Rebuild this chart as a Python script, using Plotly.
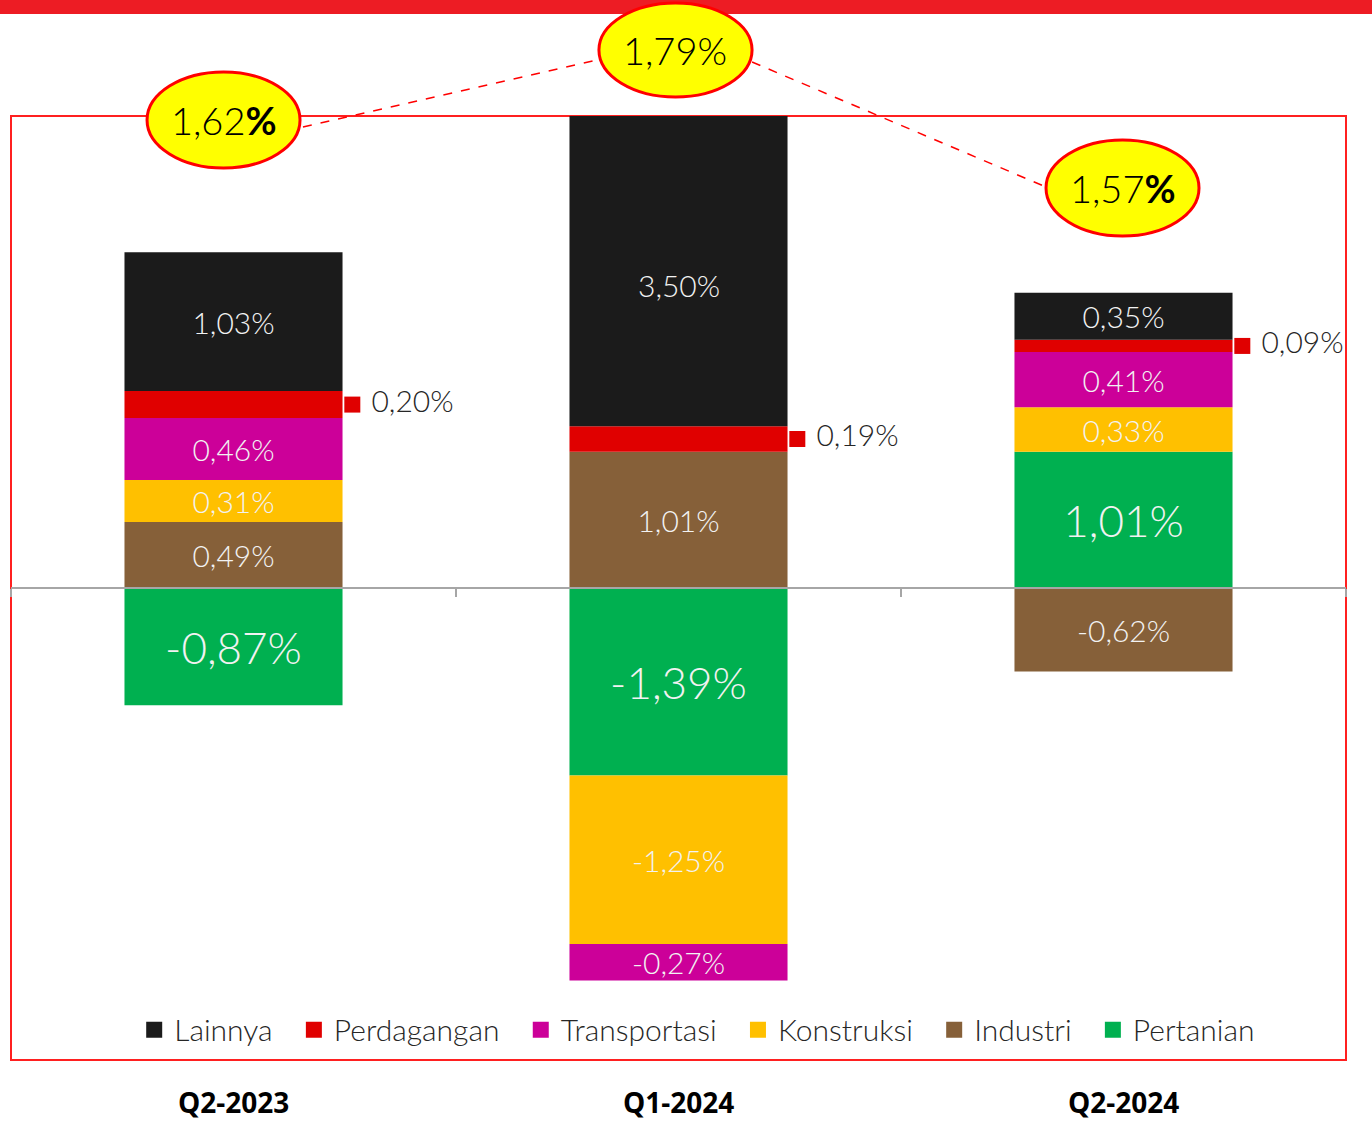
import numpy as np
import plotly.graph_objects as go

categories = ['Q2-2023', 'Q1-2024', 'Q2-2024']
pertanian = [-0.87, -1.39, 1.01]
industri = [0.49, 1.01, -0.62]
konstruksi = [0.31, -1.25, 0.33]
transportasi = [0.46, -0.27, 0.41]
perdagangan = [0.20, 0.19, 0.09]
lainnya = [1.03, 3.50, 0.35]

series = [
    ('Pertanian', pertanian, '#00B050', 44),
    ('Industri', industri, '#866039', 30),
    ('Konstruksi', konstruksi, '#FFC000', 30),
    ('Transportasi', transportasi, '#CC0099', 30),
    ('Perdagangan', perdagangan, '#E00000', 30),
    ('Lainnya', lainnya, '#1B1B1B', 30),
]

YMAX = 3.5
BAR_W = 0.49
FONT = 'Lato'
x_pos = list(range(len(categories)))


def fmt(v):
    return f'{v:.2f}'.replace('.', ',') + '%'


fig = go.Figure()
pos_base = np.zeros(len(categories))
neg_base = np.zeros(len(categories))
mids = {}
extra_labels = []
for name, vals, color, size in series:
    vals = np.array(vals)
    base = np.where(vals >= 0, pos_base, neg_base)
    top = base + vals
    mids[name] = (base + top) / 2
    texts = []
    for i, v in enumerate(vals):
        if name == 'Perdagangan':
            texts.append('')
        elif top[i] > YMAX:
            # bar runs past the top of the frame: label the visible part
            texts.append('')
            extra_labels.append((i, (base[i] + YMAX) / 2, fmt(v), size))
        else:
            texts.append(fmt(v))
    fig.add_trace(go.Bar(x=x_pos, y=vals, name=name, width=BAR_W,
                         marker=dict(color=color, line=dict(width=0)),
                         text=texts, textposition='inside', insidetextanchor='middle',
                         textangle=0, constraintext='none',
                         textfont=dict(color='#F2F2F2', size=size, family=FONT, weight=300),
                         hoverinfo='y', showlegend=False))
    pos_base = np.where(vals >= 0, top, pos_base)
    neg_base = np.where(vals < 0, top, neg_base)

# legend entries with bigger square keys
for name, vals, color, size in series:
    fig.add_trace(go.Scatter(x=[None], y=[None], mode='markers', name=name + '&nbsp;&nbsp;',
                             marker=dict(symbol='square', size=16, color=color)))

# Perdagangan labels outside the bars
fig.add_trace(go.Scatter(x=[i + BAR_W / 2 + 0.022 for i in x_pos], y=mids['Perdagangan'],
                         mode='markers+text', text=[' ' + fmt(v) for v in perdagangan],
                         textposition='middle right',
                         textfont=dict(color='#262626', size=30, family=FONT, weight=300),
                         marker=dict(symbol='square', size=16, color='#E00000'),
                         showlegend=False, hoverinfo='skip', cliponaxis=False))

for i, y, txt, size in extra_labels:
    fig.add_annotation(x=i, y=y, text=txt, showarrow=False, yshift=-14,
                       font=dict(color='#F2F2F2', size=size, family=FONT, weight=300))

# category labels
for i, cat in enumerate(categories):
    fig.add_annotation(x=i, y=0, xref='x', yref='paper', text='<b>' + cat + '</b>',
                       showarrow=False, yanchor='middle', yshift=-42,
                       font=dict(color='black', size=28, family='Open Sans'))

# frame and top band
fig.add_shape(type='rect', xref='paper', yref='paper', x0=0, x1=1, y0=0, y1=1,
              line=dict(color='#FF2020', width=2), layer='below')
fig.add_shape(type='rect', xref='paper', yref='paper', x0=-0.01, x1=1.03, y0=1.108, y1=1.13,
              line=dict(width=0), fillcolor='#ED1C24')

# totals in ellipses
totals = [sum(s[1][i] for s in series) for i in range(len(categories))]
ellipses = [(0.1019, 0.2165, 0.9449, 1.0466), (0.4404, 0.5551, 1.0201, 1.1197),
            (0.7753, 0.8899, 0.8729, 0.9746)]
fig.add_shape(type='line', xref='paper', yref='paper', x0=0.2187, y0=0.9883, x1=0.4390, y1=1.0593,
              line=dict(color='#FF0000', width=1.5, dash='dash'))
fig.add_shape(type='line', xref='paper', yref='paper', x0=0.5551, y0=1.0572, x1=0.7753, y1=0.9248,
              line=dict(color='#FF0000', width=1.5, dash='dash'))
for i, (x0, x1, y0, y1) in enumerate(ellipses):
    fig.add_shape(type='circle', xref='paper', yref='paper', x0=x0, x1=x1, y0=y0, y1=y1,
                  fillcolor='#FFFF00', line=dict(color='#FF0000', width=3))
    t = fmt(totals[i])
    if i != 1:
        t = t[:-1] + '<b>%</b>'
    fig.add_annotation(x=(x0 + x1) / 2, y=(y0 + y1) / 2, xref='paper', yref='paper', text=t,
                       xanchor='center', yanchor='middle', showarrow=False,
                       font=dict(color='black', size=38, family=FONT, weight=300))

fig.update_layout(
    width=1372, height=1125,
    margin=dict(l=11, r=26, t=116, b=65),
    paper_bgcolor='white', plot_bgcolor='white',
    barmode='relative',
    showlegend=True,
    legend=dict(orientation='h', traceorder='reversed', x=0.52, y=0.032,
                xanchor='center', yanchor='middle', bgcolor='rgba(0,0,0,0)',
                font=dict(size=30, color='#262626', family=FONT, weight=300)),
    font=dict(family=FONT),
)
fig.update_xaxes(range=[-0.5, 2.5], anchor='free', position=0.5, showline=True,
                 linecolor='#A6A6A6', linewidth=2, showgrid=False, zeroline=False,
                 tickvals=[-0.5, 0.5, 1.5, 2.5], ticks='outside', ticklen=8,
                 tickcolor='#A6A6A6', tickwidth=2, showticklabels=False)
fig.update_yaxes(range=[-YMAX, YMAX], visible=False, showgrid=False, zeroline=False)

fig.write_html('out.html', config={'displayModeBar': False},
               post_script="document.body.style.margin='0';")
